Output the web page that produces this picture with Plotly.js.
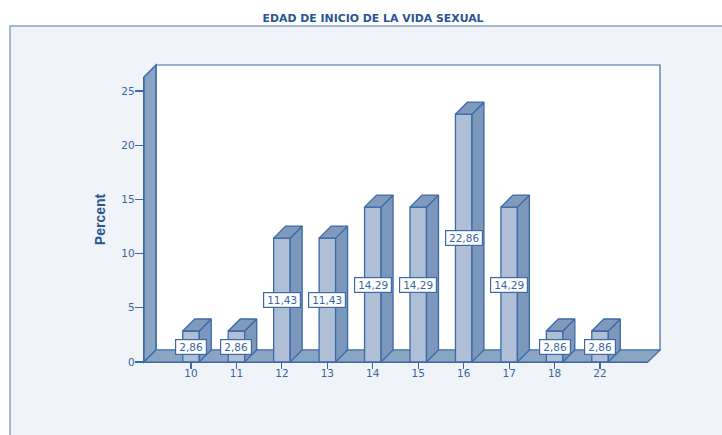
<!DOCTYPE html>
<html><head><meta charset="utf-8">
<script src="https://cdn.plot.ly/plotly-3.0.1.min.js"></script>
<style>html,body{margin:0;padding:0;background:#fff}#c{width:722px;height:435px}</style>
</head><body><div id="c"></div>
<script>
const categories = ['10','11','12','13','14','15','16','17','18','22'];
const percents = [2.86,2.86,11.43,11.43,14.29,14.29,22.86,14.29,2.86,2.86];
const yTicks = [0,5,10,15,20,25];

const W=722,H=435,L=144,R=648,T=77,B=362;
const stepPx=45.45, unitPx=10.84, depthPx=12, barPx=16.5, firstPx=191;
const xr=[(L-firstPx)/stepPx,(R-firstPx)/stepPx], yr=[0,(B-T)/unitPx];
const dx=depthPx/stepPx, dy=depthPx/unitPx, bw=barPx/stepPx;
const LINE='#3c6aa6',TXT='#3a659f',FRONT='#aebfd6',SIDE='#7b97bc',TOP='#7f9abd',WALL='#8aa4c4',BG='#f0f3f8',EDGE='#8aa4c8';
const FONT='DejaVu Sans, sans-serif';
const idx=categories.map((_,i)=>i);
const px=x=>(x-L)/(R-L), py=y=>(B-y)/(B-T);
const poly=(pts,fill,line,w)=>({type:'path',xref:'paper',yref:'paper',layer:'below',
  path:'M'+pts.map(p=>px(p[0])+','+py(p[1])).join('L')+'Z',fillcolor:fill,line:{color:line,width:w}});
const shapes=[
  {type:'rect',xref:'paper',yref:'paper',layer:'below',x0:px(10),x1:px(W+10),y0:py(H+10),y1:py(26),fillcolor:BG,line:{color:EDGE,width:1.5}},
  poly([[L+depthPx,T-depthPx],[R+depthPx,T-depthPx],[R+depthPx,B-depthPx],[L+depthPx,B-depthPx]],'#ffffff',LINE,1.2),
  poly([[L,T],[L+depthPx,T-depthPx],[L+depthPx,B-depthPx],[L,B]],WALL,LINE,1.5),
  poly([[L,B],[L+depthPx,B-depthPx],[R+depthPx,B-depthPx],[R,B]],WALL,LINE,1.2)
];
const front={type:'bar',x:idx,y:percents,width:bw,marker:{color:FRONT,line:{color:LINE,width:1.3}},hoverinfo:'skip',showlegend:false};
const face=(color,fn)=>{const x=[],y=[];percents.forEach((v,i)=>{fn(i,v).forEach(p=>{x.push(p[0]);y.push(p[1])});x.push(null);y.push(null)});
  return {type:'scatter',mode:'lines',x,y,fill:'toself',fillcolor:color,line:{color:LINE,width:1.3},cliponaxis:false,hoverinfo:'skip',showlegend:false}};
const side=face(SIDE,(i,v)=>[[i+bw/2,0],[i+bw/2+dx,dy],[i+bw/2+dx,v+dy],[i+bw/2,v],[i+bw/2,0]]);
const top_=face(TOP,(i,v)=>[[i-bw/2,v],[i-bw/2+dx,v+dy],[i+bw/2+dx,v+dy],[i+bw/2,v],[i-bw/2,v]]);
const annotations=percents.map((v,i)=>({x:i,y:v/2,xref:'x',yref:'y',showarrow:false,
  text:v.toFixed(2).replace('.',','),font:{family:FONT,size:10.5,color:TXT},
  bgcolor:'#ffffff',bordercolor:LINE,borderwidth:1.2,borderpad:1,width:v>=10?34:28,height:12}));
Plotly.newPlot('c',[front,side,top_],{
  width:W,height:H,margin:{l:L,r:W-R,t:T,b:H-B},
  paper_bgcolor:'#ffffff',plot_bgcolor:'rgba(0,0,0,0)',
  title:{text:'<b>EDAD DE INICIO DE LA VIDA SEXUAL</b>',font:{family:FONT,size:10.9,color:'#2a5590'},x:373/W,xanchor:'center',y:1-18/H,yanchor:'middle'},
  xaxis:{range:xr,tickmode:'array',tickvals:idx,ticktext:categories,ticks:'outside',ticklen:6,tickcolor:LINE,tickwidth:1.2,showline:true,linecolor:LINE,linewidth:1.2,showgrid:false,zeroline:false,ticklabelstandoff:-5,tickfont:{family:FONT,size:10.5,color:TXT}},
  yaxis:{range:yr,tickmode:'array',tickvals:yTicks,ticktext:yTicks.map(String),ticks:'outside',ticklen:8,tickcolor:LINE,tickwidth:1.2,showline:true,linecolor:LINE,linewidth:1.2,showgrid:false,zeroline:false,ticklabelstandoff:-2,tickfont:{family:FONT,size:10.5,color:TXT},
    title:{text:'<b>Percent</b>',font:{family:'Liberation Sans, Arial, sans-serif',size:14,color:'#2a5590'},standoff:12}},
  shapes,annotations,showlegend:false,bargap:0
},{displayModeBar:false,staticPlot:true});
</script></body></html>
